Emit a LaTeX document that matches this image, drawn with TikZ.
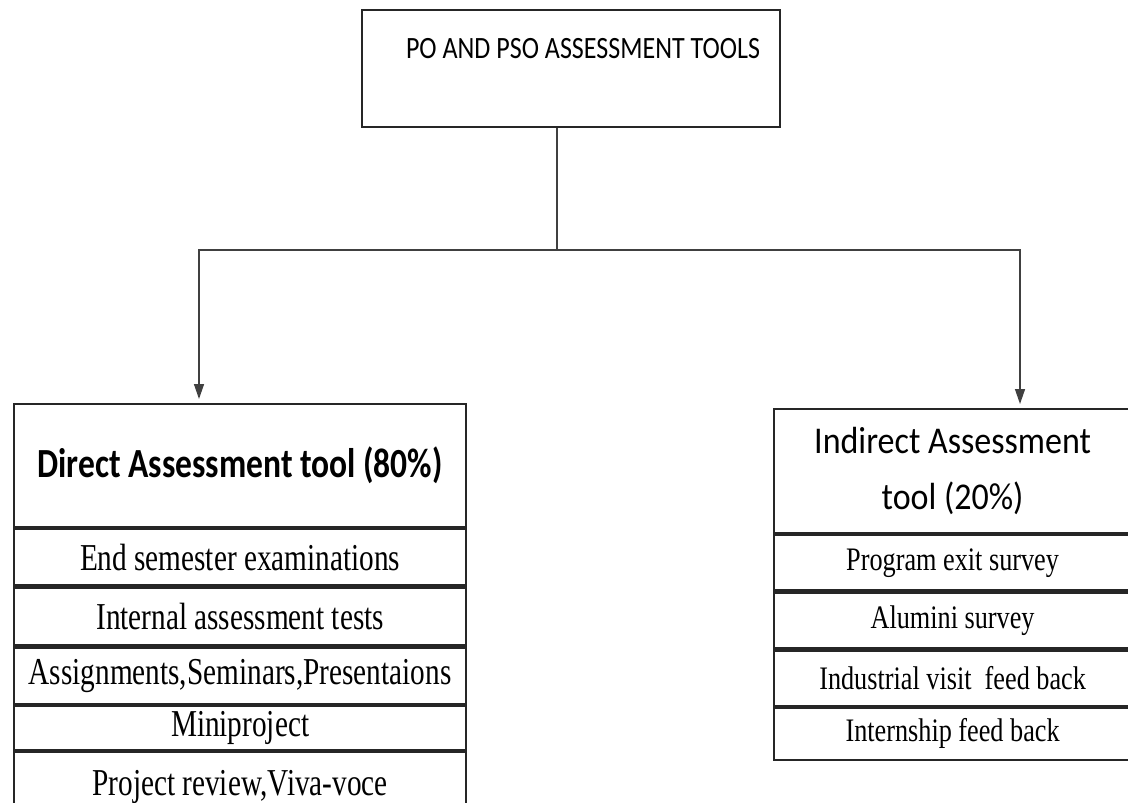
\documentclass[tikz,border=0pt]{standalone}
\usepackage{fontspec}
\setmainfont{Liberation Serif}
\newfontfamily\leftheadfont[FakeStretch=0.81]{Carlito}
\newfontfamily\rightheadfont[FakeStretch=0.9]{Carlito}
\newfontfamily\topfont[FakeStretch=0.84]{Carlito}
\newfontfamily\leftrowfont[FakeStretch=0.77]{Liberation Serif}
\newfontfamily\rightrowfont[FakeStretch=0.8]{Liberation Serif}
\usetikzlibrary{positioning}
\usetikzlibrary{arrows.meta}

\tikzset{
  box/.style={draw=black!85, line width=1.1pt, inner sep=0pt, align=center},
  lhead/.style={box, minimum width=226pt, minimum height=61.5pt,
    font={\leftheadfont\bfseries\fontsize{20.7}{24}\selectfont}},
  rhead/.style={box, minimum width=178.5pt, minimum height=62pt,
    font={\rightheadfont\fontsize{18.9}{28}\selectfont}},
  lrow/.style={box, minimum width=226pt, font={\leftrowfont\fontsize{19}{21}\selectfont}},
  rrow/.style={box, minimum width=178.5pt, font={\rightrowfont\fontsize{16.4}{18}\selectfont}},
  link/.style={draw=black!75, line width=0.7pt},
  arr/.style={link, -{Triangle[length=7.5pt, width=5pt]}, shorten >=2pt}
}

\begin{document}
\begin{tikzpicture}[x=0.5pt, y=-0.5pt]
  \clip (0,0) rectangle (1128,802);
  \fill[white] (0,0) rectangle (1128,802);

  % top box
  \node[box, minimum width=209pt, minimum height=58.5pt] (tools) at (571,68.5) {};
  \node[inner sep=0pt, font={\topfont\fontsize{15.5}{18}\selectfont}] (toolstext) at (583,48.5) {PO AND PSO ASSESSMENT TOOLS};

  % direct tools
  \node[lhead, anchor=north west] (direct) at (13,403) {Direct Assessment tool (80\%)};
  \node[lrow, minimum height=28pt, below=0pt of direct] (d1) {End semester examinations};
  \node[lrow, minimum height=29pt, below=0pt of d1] (d2) {Internal assessment tests};
  \node[lrow, minimum height=28pt, below=0pt of d2] (d3) {Assignments,Seminars,Presentaions};
  \node[lrow, minimum height=22pt, below=0pt of d3] (d4) {Miniproject};
  \node[lrow, minimum height=35pt, below=0pt of d4] (d5) {Project review,Viva-voce};

  % indirect tools
  \node[rhead, anchor=north west] (indirect) at (773,408) {Indirect Assessment\\tool (20\%)};
  \node[rrow, minimum height=27.5pt, below=0pt of indirect] (i1) {Program exit survey};
  \node[rrow, minimum height=28pt, below=0pt of i1] (i2) {Alumini survey};
  \node[rrow, minimum height=27.5pt, below=0pt of i2] (i3) {Industrial visit~ feed back};
  \node[rrow, minimum height=26pt, below=0pt of i3] (i4) {Internship feed back};

  % connectors
  \coordinate (fork) at (557,250);
  \draw[link] (fork |- tools.south) -- (fork);
  \draw[arr] (fork) -| ([xshift=93pt]direct.north west);
  \draw[arr] (fork) -| ([xshift=123.5pt]indirect.north west);
\end{tikzpicture}
\end{document}
